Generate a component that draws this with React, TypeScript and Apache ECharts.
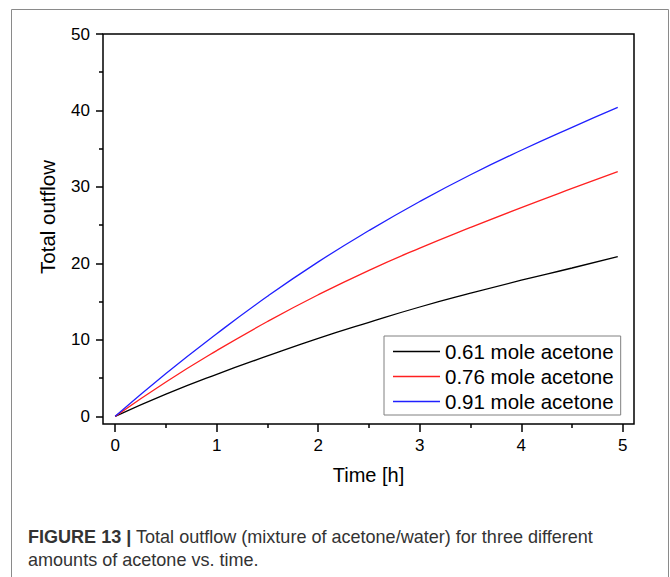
import React, { useEffect, useRef } from "react";
import * as echarts from "echarts";

// Time points [h]
const timeH = [0, 0.5, 1, 1.5, 2, 2.5, 3, 3.5, 4, 4.5, 4.95];

// Total outflow for each starting amount of acetone
const outflow061 = [0, 2.9, 5.5, 7.9, 10.2, 12.3, 14.3, 16.1, 17.8, 19.4, 20.9];
const outflow076 = [0, 4.5, 8.6, 12.4, 15.9, 19.1, 22.0, 24.7, 27.3, 29.8, 32.0];
const outflow091 = [0, 5.6, 10.8, 15.7, 20.2, 24.3, 28.1, 31.6, 34.8, 37.8, 40.4];

const seriesNames = ["0.61 mole acetone", "0.76 mole acetone", "0.91 mole acetone"];
const seriesColors = ["#000000", "#ff2020", "#2020ff"];

// Axis ticks
const xMajorTicks = [0, 1, 2, 3, 4, 5];
const xMinorTicks = [0.5, 1.5, 2.5, 3.5, 4.5];
const yMajorTicks = [0, 10, 20, 30, 40, 50];
const yMinorTicks = [5, 15, 25, 35, 45];

const X_MIN = -0.12;
const X_MAX = 5.11;
const Y_MIN = -1;
const Y_MAX = 50;

const FONT = "'Liberation Sans', Arial, Helvetica, sans-serif";

const gridBox = { left: 103, right: 36, top: 34, bottom: 153 };

function pairs(ys: number[]) {
  return timeH.map((t, i) => [t, ys[i]]);
}

export default function App() {
  const ref = useRef<HTMLDivElement>(null);

  useEffect(() => {
    if (!ref.current) return;
    const chart = echarts.init(ref.current, null, { renderer: "svg" });

    const tickStyle = { color: "#000", width: 1.5 };
    const hiddenLine = { show: false, onZero: false };

    const option: any = {
      animation: false,
      backgroundColor: "#fff",
      grid: [
        { ...gridBox, show: true, borderColor: "#000", borderWidth: 1.5, backgroundColor: "transparent" },
        { ...gridBox, show: false },
      ],
      xAxis: [
        {
          type: "value",
          gridIndex: 0,
          min: X_MIN,
          max: X_MAX,
          position: "bottom",
          name: "Time [h]",
          nameLocation: "middle",
          nameGap: 41,
          nameTextStyle: { fontSize: 20, color: "#000", fontFamily: FONT },
          axisLine: hiddenLine,
          splitLine: { show: false },
          axisTick: { show: true, inside: false, length: 8, lineStyle: tickStyle, customValues: xMajorTicks },
          axisLabel: {
            customValues: xMajorTicks,
            color: "#000",
            fontSize: 17,
            fontFamily: FONT,
            margin: 13,
            formatter: (v: number) => String(v),
          },
        },
        {
          type: "value",
          gridIndex: 1,
          min: X_MIN,
          max: X_MAX,
          position: "bottom",
          axisLine: hiddenLine,
          splitLine: { show: false },
          axisTick: { show: true, inside: false, length: 4, lineStyle: tickStyle, customValues: xMinorTicks },
          axisLabel: { show: false },
        },
      ],
      yAxis: [
        {
          type: "value",
          gridIndex: 0,
          min: Y_MIN,
          max: Y_MAX,
          position: "left",
          axisLine: hiddenLine,
          splitLine: { show: false },
          axisTick: { show: true, inside: false, length: 7, lineStyle: tickStyle, customValues: yMajorTicks },
          axisLabel: {
            customValues: yMajorTicks,
            color: "#000",
            fontSize: 17,
            fontFamily: FONT,
            margin: 13,
            formatter: (v: number) => String(v),
          },
        },
        {
          type: "value",
          gridIndex: 1,
          min: Y_MIN,
          max: Y_MAX,
          position: "left",
          axisLine: hiddenLine,
          splitLine: { show: false },
          axisTick: { show: true, inside: false, length: 4, lineStyle: tickStyle, customValues: yMinorTicks },
          axisLabel: { show: false },
        },
      ],
      legend: {
        orient: "vertical",
        left: 384,
        top: 336,
        padding: [5, 7, 3, 9],
        icon: "rect",
        itemWidth: 47,
        itemHeight: 1.3,
        itemGap: 4,
        backgroundColor: "#fff",
        borderColor: "#808080",
        borderWidth: 1,
        borderRadius: 0,
        textStyle: { fontSize: 20.5, color: "#000", fontFamily: FONT, lineHeight: 21 },
        data: seriesNames,
      },
      series: [outflow061, outflow076, outflow091].map((ys, i) => ({
        type: "line",
        name: seriesNames[i],
        xAxisIndex: 0,
        yAxisIndex: 0,
        data: pairs(ys),
        symbol: "none",
        smooth: true,
        color: seriesColors[i],
        lineStyle: { color: seriesColors[i], width: 1.3 },
      })),
      graphic: [
        {
          type: "rect",
          silent: true,
          shape: { x: 11.5, y: 9.5, width: 657, height: 620 },
          style: { fill: "none", stroke: "#8a8a8a", lineWidth: 1 },
          z: -1,
        },
        {
          type: "text",
          silent: true,
          x: 47,
          y: 217,
          rotation: Math.PI / 2,
          style: {
            text: "Total outflow",
            fontSize: 20.5,
            fontFamily: FONT,
            fill: "#000",
            align: "center",
            verticalAlign: "middle",
          },
        },
        {
          type: "text",
          silent: true,
          x: 28,
          y: 525,
          scaleX: 0.95,
          style: {
            text: "{b|FIGURE 13 |} Total outflow (mixture of acetone/water) for three different\namounts of acetone vs. time.",
            fontSize: 19,
            lineHeight: 23,
            fontFamily: FONT,
            fill: "#333",
            align: "left",
            verticalAlign: "top",
            rich: {
              b: { fontSize: 19, fontWeight: "bold", fontFamily: FONT, fill: "#333", lineHeight: 23 },
            },
          },
        },
      ],
    };

    chart.setOption(option);
    return () => chart.dispose();
  }, []);

  return (
    <div
      ref={ref}
      style={{ position: "fixed", left: 0, top: 0, width: 670, height: 577, background: "#fff" }}
    />
  );
}
